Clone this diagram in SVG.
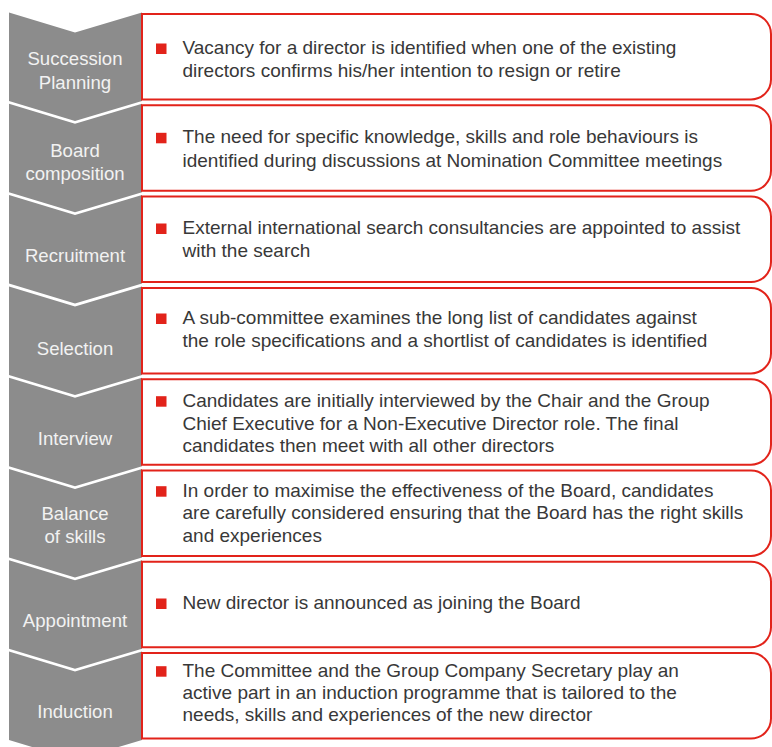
<svg xmlns="http://www.w3.org/2000/svg" width="772" height="747" viewBox="0 0 772 747">
<style>
.chev{fill:#8c8c8c;}
.lab{font-family:"Liberation Sans",Arial,sans-serif;font-size:18.6px;fill:#f2f2f2;text-anchor:middle;}
.box{fill:#ffffff;stroke:#e2231a;stroke-width:2;}
.bul{fill:#e2231a;}
.txt{font-family:"Liberation Sans",Arial,sans-serif;font-size:19px;fill:#383838;}
</style>
<rect width="772" height="747" fill="#ffffff"/>
<g id="step-1">
<polygon class="chev" points="9,12.5 75,32.5 142,12.5 142,101 75,121 9,101"/>
<text class="lab" x="75" y="65">Succession</text>
<text class="lab" x="75" y="89">Planning</text>
<path class="box" d="M142,14 H751 A20,20 0 0 1 771,34 V79.5 A20,20 0 0 1 751,99.5 H142 Z"/>
<rect class="bul" x="156" y="43.5" width="10.5" height="10.5"/>
<text class="txt" x="182.5" y="54">Vacancy for a director is identified when one of the existing</text>
<text class="txt" x="182.5" y="77">directors confirms his/her intention to resign or retire</text>
</g>
<g id="step-2">
<polygon class="chev" points="9,103.8 75,123.8 142,103.8 142,192.3 75,212.3 9,192.3"/>
<text class="lab" x="75" y="157">Board</text>
<text class="lab" x="75" y="180">composition</text>
<path class="box" d="M142,105.3 H751 A20,20 0 0 1 771,125.3 V170.8 A20,20 0 0 1 751,190.8 H142 Z"/>
<rect class="bul" x="156" y="132.8" width="10.5" height="10.5"/>
<text class="txt" x="182.5" y="143.3">The need for specific knowledge, skills and role behaviours is</text>
<text class="txt" x="182.5" y="166.5">identified during discussions at Nomination Committee meetings</text>
</g>
<g id="step-3">
<polygon class="chev" points="9,195.1 75,215.1 142,195.1 142,283.6 75,303.6 9,283.6"/>
<text class="lab" x="75" y="262">Recruitment</text>
<path class="box" d="M142,196.6 H751 A20,20 0 0 1 771,216.6 V262.1 A20,20 0 0 1 751,282.1 H142 Z"/>
<rect class="bul" x="156" y="223.5" width="10.5" height="10.5"/>
<text class="txt" x="182.5" y="234">External international search consultancies are appointed to assist</text>
<text class="txt" x="182.5" y="257">with the search</text>
</g>
<g id="step-4">
<polygon class="chev" points="9,286.4 75,306.4 142,286.4 142,374.9 75,394.9 9,374.9"/>
<text class="lab" x="75" y="355">Selection</text>
<path class="box" d="M142,287.9 H751 A20,20 0 0 1 771,307.9 V353.4 A20,20 0 0 1 751,373.4 H142 Z"/>
<rect class="bul" x="156" y="313.5" width="10.5" height="10.5"/>
<text class="txt" x="182.5" y="324">A sub-committee examines the long list of candidates against</text>
<text class="txt" x="182.5" y="346.7">the role specifications and a shortlist of candidates is identified</text>
</g>
<g id="step-5">
<polygon class="chev" points="9,377.7 75,397.7 142,377.7 142,466.2 75,486.2 9,466.2"/>
<text class="lab" x="75" y="445">Interview</text>
<path class="box" d="M142,379.2 H751 A20,20 0 0 1 771,399.2 V444.7 A20,20 0 0 1 751,464.7 H142 Z"/>
<rect class="bul" x="156" y="396.2" width="10.5" height="10.5"/>
<text class="txt" x="182.5" y="406.7">Candidates are initially interviewed by the Chair and the Group</text>
<text class="txt" x="182.5" y="429.5">Chief Executive for a Non-Executive Director role. The final</text>
<text class="txt" x="182.5" y="451.7">candidates then meet with all other directors</text>
</g>
<g id="step-6">
<polygon class="chev" points="9,469 75,489 142,469 142,557.5 75,577.5 9,557.5"/>
<text class="lab" x="75" y="520">Balance</text>
<text class="lab" x="75" y="543.3">of skills</text>
<path class="box" d="M142,470.5 H751 A20,20 0 0 1 771,490.5 V536 A20,20 0 0 1 751,556 H142 Z"/>
<rect class="bul" x="156" y="486.2" width="10.5" height="10.5"/>
<text class="txt" x="182.5" y="496.7">In order to maximise the effectiveness of the Board, candidates</text>
<text class="txt" x="182.5" y="519.2">are carefully considered ensuring that the Board has the right skills</text>
<text class="txt" x="182.5" y="541.7">and experiences</text>
</g>
<g id="step-7">
<polygon class="chev" points="9,560.3 75,580.3 142,560.3 142,648.8 75,668.8 9,648.8"/>
<text class="lab" x="75" y="627">Appointment</text>
<path class="box" d="M142,561.8 H751 A20,20 0 0 1 771,581.8 V627.3 A20,20 0 0 1 751,647.3 H142 Z"/>
<rect class="bul" x="156" y="598.5" width="10.5" height="10.5"/>
<text class="txt" x="182.5" y="609">New director is announced as joining the Board</text>
</g>
<g id="step-8">
<polygon class="chev" points="9,651.6 75,671.6 142,651.6 142,740 75,760 9,740"/>
<text class="lab" x="75" y="718">Induction</text>
<path class="box" d="M142,653.1 H751 A20,20 0 0 1 771,673.1 V718.6 A20,20 0 0 1 751,738.6 H142 Z"/>
<rect class="bul" x="156" y="666.2" width="10.5" height="10.5"/>
<text class="txt" x="182.5" y="676.7">The Committee and the Group Company Secretary play an</text>
<text class="txt" x="182.5" y="699">active part in an induction programme that is tailored to the</text>
<text class="txt" x="182.5" y="721.3">needs, skills and experiences of the new director</text>
</g>
</svg>
